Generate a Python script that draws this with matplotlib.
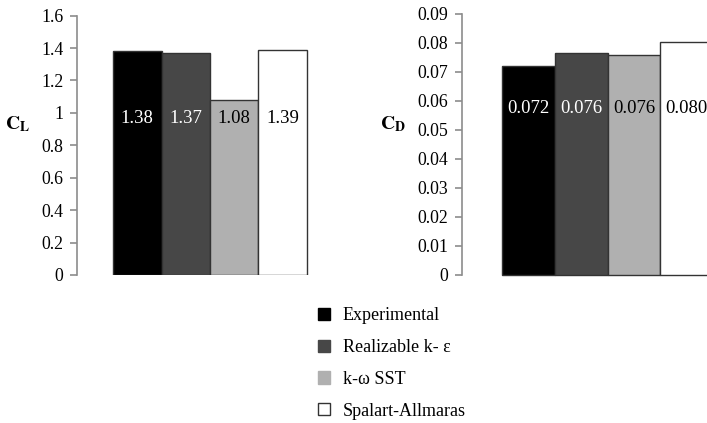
import matplotlib
matplotlib.use("Agg")
import matplotlib.pyplot as plt
from matplotlib.patches import Patch
from matplotlib.ticker import FuncFormatter
import matplotlib.transforms as mtransforms

plt.rcParams['font.family'] = ['Liberation Serif', 'DejaVu Serif']
plt.rcParams['mathtext.fontset'] = 'stix'

# data
models = ["Experimental", "Realizable k- \u03b5", "k-\u03c9 SST", "Spalart-Allmaras"]
cl_values = [1.38, 1.37, 1.078, 1.39]
cl_labels = ["1.38", "1.37", "1.08", "1.39"]
cd_values = [0.0722, 0.0766, 0.0758, 0.0803]
cd_labels = ["0.072", "0.076", "0.076", "0.080"]
colors = ["#000000", "#474747", "#b0b0b0", "#ffffff"]
text_colors = ["white", "white", "black", "black"]

fig = plt.figure(figsize=(7.07, 4.23), dpi=100)
ax1 = fig.add_axes([0.109, 0.35, 0.376, 0.613])
ax2 = fig.add_axes([0.654, 0.35, 0.411, 0.617])

x = range(len(models))


def style(ax, margin):
    for s in ["top", "right", "bottom"]:
        ax.spines[s].set_visible(False)
    ax.spines["left"].set_color("#8c8c8c")
    ax.spines["left"].set_linewidth(1.2)
    ax.tick_params(axis="y", direction="out", length=5, width=1.2, color="#8c8c8c",
                   labelsize=12.8, pad=5)
    ax.set_xticks([])
    ax.set_xlim(-0.5 - margin, len(models) - 0.5 + margin)


ax1.bar(x, cl_values, width=1.0, color=colors, edgecolor="#333333", linewidth=1.0)
ax1.set_ylim(0, 1.6)
ax1.set_yticks([0, 0.2, 0.4, 0.6, 0.8, 1.0, 1.2, 1.4, 1.6])
ax1.yaxis.set_major_formatter(FuncFormatter(lambda v, p: "{:g}".format(round(v, 2))))
style(ax1, 0.742)
tr1 = mtransforms.blended_transform_factory(ax1.transData, ax1.transAxes)
for i, lab in enumerate(cl_labels):
    ax1.text(i, 0.605, lab, transform=tr1, ha="center", va="center",
             fontsize=13.5, color=text_colors[i])
fig.text(18 / 707, 1 - 124 / 423, r"$\mathbf{C_L}$", ha="center", va="center", fontsize=14)

ax2.bar(x, cd_values, width=1.0, color=colors, edgecolor="#333333", linewidth=1.0,
        clip_on=False)
ax2.set_ylim(0, 0.09)
ax2.set_yticks([0, 0.01, 0.02, 0.03, 0.04, 0.05, 0.06, 0.07, 0.08, 0.09])
ax2.set_yticklabels(["0", "0.01", "0.02", "0.03", "0.04", "0.05", "0.06", "0.07", "0.08", "0.09"])
style(ax2, 0.76)
tr2 = mtransforms.blended_transform_factory(ax2.transData, ax2.transAxes)
for i, lab in enumerate(cd_labels):
    ax2.text(i, 0.636, lab, transform=tr2, ha="center", va="center",
             fontsize=13.5, color=text_colors[i])
fig.text(393 / 707, 1 - 124 / 423, r"$\mathbf{C_D}$", ha="center", va="center", fontsize=14)

handles = [Patch(facecolor=c, edgecolor="#333333" if c == "#ffffff" else c, linewidth=1.0)
           for c in colors]
fig.legend(handles, models, loc="upper left", bbox_to_anchor=(0.427, 0.312),
           frameon=False, fontsize=13, handlelength=0.66, handleheight=0.66,
           handletextpad=0.7, labelspacing=0.82)

fig.savefig("out.png", dpi=100)
